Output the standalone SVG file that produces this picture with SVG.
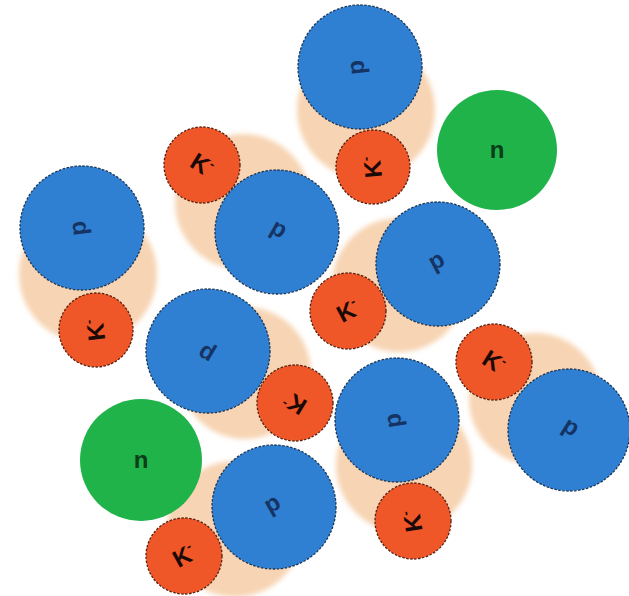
<svg xmlns="http://www.w3.org/2000/svg" width="629" height="596" viewBox="0 0 629 596">
<defs>
<filter id="soft" x="-20%" y="-20%" width="140%" height="140%"><feGaussianBlur stdDeviation="2.5"/></filter>
</defs>
<style>
.halo{fill:#f7d4b3;filter:url(#soft)}
.pro{fill:#2f80d2;stroke:#1b3656;stroke-width:1.3;stroke-dasharray:2.5 1.5}
.kao{fill:#ef5628;stroke:#5c1e0c;stroke-width:1.3;stroke-dasharray:2.5 1.5}
.neu{fill:#1fb34a}
text{font-family:"Liberation Sans",Arial,sans-serif;font-size:24px;font-weight:bold;text-anchor:middle}
.tp{fill:#163463}
.tk{fill:#1a0906}
.tn{fill:#0b3d19}
.sup{font-size:13px}
</style>
<rect width="629" height="596" fill="#ffffff"/>
<g id="halos">
<circle class="halo" cx="366" cy="110" r="69"/>
<circle class="halo" cx="88" cy="274" r="69"/>
<circle class="halo" cx="243" cy="202" r="68"/>
<circle class="halo" cx="399" cy="285" r="67"/>
<circle class="halo" cx="245" cy="373" r="66"/>
<circle class="halo" cx="535" cy="399" r="66"/>
<circle class="halo" cx="404" cy="465" r="68"/>
<circle class="halo" cx="235" cy="529" r="68"/>
</g>
<g id="n1"><circle class="neu" cx="497" cy="150" r="60"/><text class="tn" x="497" y="158">n</text></g>
<g id="n2"><circle class="neu" cx="141" cy="460" r="61"/><text class="tn" x="141" y="468">n</text></g>
<g id="m1">
<g id="p1"><circle class="pro" cx="360" cy="67" r="62"/><text class="tp" x="360" y="71" transform="rotate(-96 360 67)">p</text></g>
<g id="k1"><circle class="kao" cx="373" cy="167" r="37"/><text class="tk" x="373" y="175" transform="rotate(-96 373 167)">K<tspan class="sup" dy="-10">-</tspan></text></g>
</g>
<g id="m2">
<g id="p2"><circle class="pro" cx="82" cy="228" r="62"/><text class="tp" x="82" y="232" transform="rotate(-97 82 228)">p</text></g>
<g id="k2"><circle class="kao" cx="96" cy="330" r="37"/><text class="tk" x="96" y="338" transform="rotate(-97 96 330)">K<tspan class="sup" dy="-10">-</tspan></text></g>
</g>
<g id="m3">
<g id="k3"><circle class="kao" cx="202" cy="165" r="38"/><text class="tk" x="202" y="173" transform="rotate(32 202 165)">K<tspan class="sup" dy="-10">-</tspan></text></g>
<g id="p3"><circle class="pro" cx="277" cy="232" r="62"/><text class="tp" x="277" y="236" transform="rotate(30 277 232)">p</text></g>
</g>
<g id="m4">
<g id="p4"><circle class="pro" cx="438" cy="264" r="62"/><text class="tp" x="438" y="268" transform="rotate(-28 438 264)">p</text></g>
<g id="k4"><circle class="kao" cx="348" cy="311" r="38"/><text class="tk" x="348" y="319" transform="rotate(-28 348 311)">K<tspan class="sup" dy="-10">-</tspan></text></g>
</g>
<g id="m5">
<g id="p5"><circle class="pro" cx="208" cy="351" r="62"/><text class="tp" x="208" y="355" transform="rotate(-149 208 351)">p</text></g>
<g id="k5"><circle class="kao" cx="295" cy="403" r="38"/><text class="tk" x="295" y="411" transform="rotate(-149 295 403)">K<tspan class="sup" dy="-10">-</tspan></text></g>
</g>
<g id="m6">
<g id="k6"><circle class="kao" cx="494" cy="362" r="38"/><text class="tk" x="494" y="370" transform="rotate(32 494 362)">K<tspan class="sup" dy="-10">-</tspan></text></g>
<g id="p6"><circle class="pro" cx="569" cy="430" r="61"/><text class="tp" x="569" y="434" transform="rotate(32 569 430)">p</text></g>
</g>
<g id="m7">
<g id="p7"><circle class="pro" cx="397" cy="420" r="62"/><text class="tp" x="397" y="424" transform="rotate(-99 397 420)">p</text></g>
<g id="k7"><circle class="kao" cx="413" cy="521" r="38"/><text class="tk" x="413" y="529" transform="rotate(-99 413 521)">K<tspan class="sup" dy="-10">-</tspan></text></g>
</g>
<g id="m8">
<g id="p8"><circle class="pro" cx="274" cy="507" r="62"/><text class="tp" x="274" y="511" transform="rotate(-29 274 507)">p</text></g>
<g id="k8"><circle class="kao" cx="184" cy="556" r="38"/><text class="tk" x="184" y="564" transform="rotate(-29 184 556)">K<tspan class="sup" dy="-10">-</tspan></text></g>
</g>
</svg>
